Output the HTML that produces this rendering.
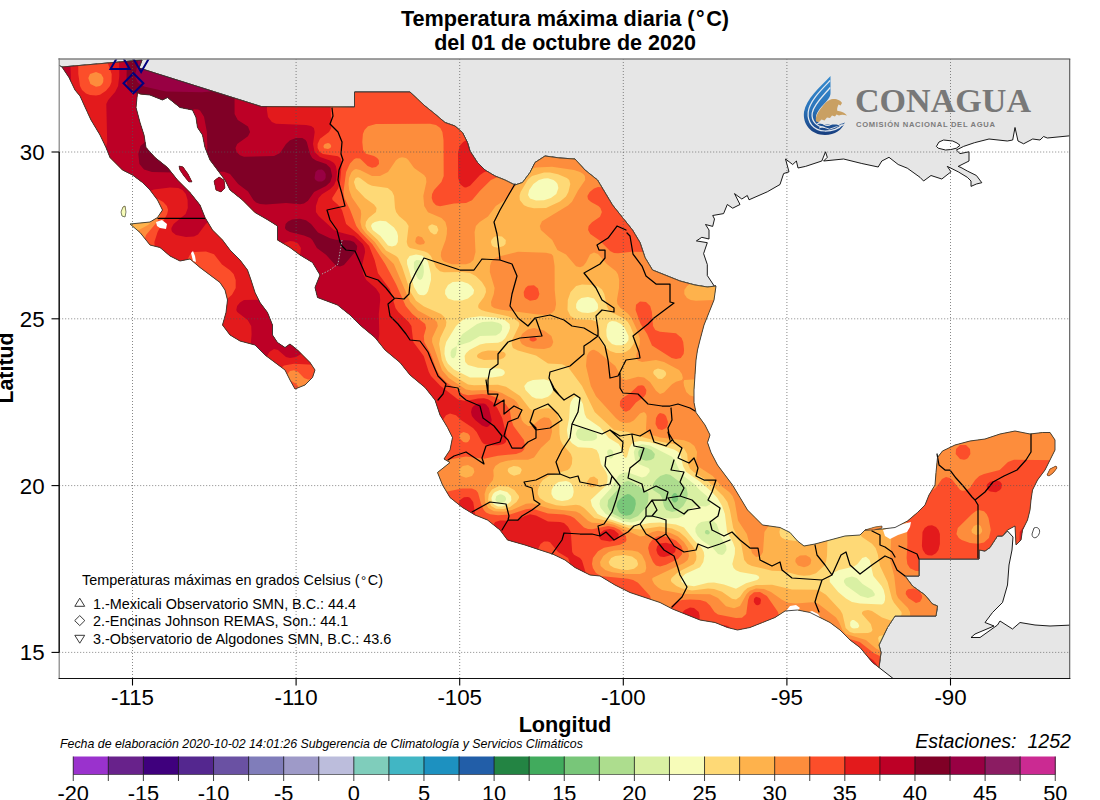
<!DOCTYPE html>
<html><head><meta charset="utf-8"><title>Temperatura máxima diaria</title>
<style>
html,body{margin:0;padding:0;background:#fff;}
body{width:1100px;height:800px;overflow:hidden;font-family:"Liberation Sans",sans-serif;}
svg{display:block;font-family:"Liberation Sans",sans-serif;}
svg text{fill:#000;}
</style></head><body>
<svg width="1100" height="800" viewBox="0 0 1100 800">
<defs>
<clipPath id="mx"><path d="M62,67 142,60 139,68 261.4,106.6 354.5,107 354.5,92 410,92 417.5,99 425,106 435,114 445,122.5 455,126 462.5,132.5 467.5,142.5 470,151 477.5,162.5 485,170 495,176 505,180 515,185 522.5,182.5 530,172.5 535,162.5 545,156 560,158 575,159 585,170 597.5,180 605,192.5 612.5,205 622.5,217.5 632.5,230 640,242.5 645,257.5 652.5,270 665,275 680,281 695,285 707.5,287 716,286 714,300 709,312.5 704,325 700,340 697.5,350 696,360 695,375 694,390 694,402.5 696,412.5 705,425 710,435 707.5,442.5 711,452.5 717.5,465 725,475 732.5,485 740,497.5 747.5,510 755,517.5 762.5,525 780,527.5 790,532.5 797.5,541 804,546 815,544 830,540 845,536 860,535 865,530 882.5,529 895,527.5 907.5,521 917.5,512.5 925,505 929,495 935,485 936,472.5 937.5,457.5 942.5,451 955,445 970,441 985,439 1000,434 1015,431 1030,434 1042.5,432.5 1050,432.5 1055,440 1055,450 1050,460 1045,470 1037.5,480 1032.5,490 1031,500 1030,510 1027.5,520 1022.5,530 1021,540 1016,545 1015,526 1007.5,530 1002.5,536 997.5,536 990,547.5 985,551 979,550 979,559 919,559 919,576 905,576 912.5,586 925,595 932.5,604 937.5,606 936,616 895,616 887.5,627.5 879,645 881,652.5 879,667.5 872.5,662.5 860,647.5 850,640 840,630 830,622.5 820,617.5 810,612.5 797.5,610 785,611 775,617.5 762.5,622.5 750,627.5 737.5,630 727.5,627.5 715,622.5 700,620 685,614 672.5,609 660,602.5 645,597.5 630,592.5 615,585 600,576 590,575 575,567.5 565,560 552.5,554 540,550 525,545 507.5,540 500,530 487.5,520 475,515 462.5,507.5 450,497.5 442.5,485 437.5,472.5 450,462.5 444,459 450,450 452.5,437.5 447.5,427.5 440,415 435,400 425,387.5 410,375 400,362.5 385,350 375,337.5 360,325 350,315 337.5,305 317.5,297.5 315,287.5 320,275 312.5,262.5 300,255 290,247.5 277.5,240 277.5,226 268,220 255,212.5 242.5,200 230,190 225,180 217.5,170 210,160 205,147.5 202.5,135 197.5,127.5 196,117.5 192.5,110 180,107.5 167.5,97.5 162.5,100 150,95 140,94 137.5,92.5 136,107.5 140,122.5 144,135 146,147.5 155,157.5 167.5,167.5 177.5,180 190,192.5 200,205 205,217.5 212.5,230 222.5,240 230,250 240,260 247.5,270 251,280 255,292.5 260,302.5 267.5,312.5 272.5,325 272.5,335 277.5,342.5 285,347.5 290,344 297.5,350 302.5,355 310,362.5 315,370 312.5,377.5 305,385 295,389 290,380 285,370 275,362.5 265,355 255,345 240,341 230,335 222.5,325 226,312.5 227.5,300 225,290 220,282.5 210,275 200,267.5 190,259 180,261 170,256 160,247.5 150,245 140,232.5 130,224 150,222 157.5,217.5 162.5,210 157.5,200 150,190 142.5,182.5 132.5,175 122.5,170 110,157.5 106,147.5 100,135 91,120 87.5,112.5 80,96 75,90 69,77.5Z"/><path d="M179,166 183,167 188,174 192,182 189,182 184,176 180,170Z"/><path d="M214,181 219,177 224,180 225,188 221,192 216,190Z"/><path d="M123,207 125,206 126,212 125,217 122,216 121,212Z"/><path d="M1047,475 1050,469 1056,466 1057,468 1053,473 1049,476Z"/><path d="M865,530 875,527 882,526 882,528 874,530Z"/></clipPath>
<clipPath id="fr"><rect x="59.2" y="59" width="1010.5" height="619.5"/></clipPath>
</defs>
<rect width="1100" height="800" fill="#fff"/>
<g clip-path="url(#fr)">
<path d="M57,57 57,64 62,67 142,60 139,68 261.4,106.6 354.5,107 354.5,92 410,92 417.5,99 425,106 435,114 445,122.5 455,126 462.5,132.5 467.5,142.5 470,151 477.5,162.5 485,170 495,176 505,180 515,185 522.5,182.5 530,172.5 535,162.5 545,156 560,158 575,159 585,170 597.5,180 605,192.5 612.5,205 622.5,217.5 632.5,230 640,242.5 645,257.5 652.5,270 665,275 680,281 695,285 707.5,287 716,286 714.5,286.4 707.3,275.5 707.3,264.5 703.6,253.6 707.3,242.7 696.4,240.9 701.8,237.3 709,239 709,230 705.5,224.5 712.7,226.4 714.5,219 712.7,215.5 723.6,213.6 727.3,204.5 732.7,208.2 740,204.5 734.5,193.6 741.8,199 747.3,195.5 749,199.8 767.3,191.8 780,184.5 783.6,173.6 789,171.8 785.5,159 792.7,164.5 796.4,161 798,168 805.5,166.4 821.8,161 825.5,151.8 827.3,157.3 823.6,161 843.6,159 861.8,163.5 878.2,167 881.8,161 889,157.3 898.2,164.5 907.3,168.2 920,177.3 923.6,181 931,175.5 941.8,179 951,171.8 947.3,166.4 958.2,171.8 967.3,177.3 971,181 971,186.4 976.4,184 981.8,182.7 976.4,175.5 967.3,171 961,167.5 958.2,166.4 969,161 969,151.8 960,153.6 956.4,150 963.6,146.4 974.5,142.7 989,139 1007.3,141 1012.7,140 1015,127.5 1018,141 1023.6,143.8 1032.7,139 1040,140 1043.6,136.5 1047.3,138 1073,135.5 1073,57Z" fill="#e6e6e6" stroke="#000" stroke-width="0.9" stroke-linejoin="round"/>
<path d="M936.4,146.4 939,142 943.6,140 952.7,141 957,143 960,145.3 956.4,148.2 951,149.5 945.5,150 938.2,148.2Z" fill="#fff" stroke="#000" stroke-width="0.9"/>
<path d="M979,559 979,550 985,551 990,547.5 997.5,536 1002.5,536 1007.5,531 1013,537 1012,550 1009,565 1007.5,585 1002.5,602.5 992.5,612.5 985,622.5 994,626 975,634 971,637.5 980,637.5 997.5,625 1000,621 1012.5,629 1020,622.5 1035,625 1050,626 1073,625 1073,681 896,681 892.5,678 879,667.5 881,652.5 879,645 887.5,627.5 895,616 936,616 937.5,606 932.5,604 925,595 912.5,586 905,576 919,576 919,559 979,559Z" fill="#e6e6e6" stroke="#000" stroke-width="0.9" stroke-linejoin="round"/>
<g clip-path="url(#mx)">
<rect x="50" y="50" width="1030" height="640" fill="#78c679"/>
<path fill-rule="evenodd" fill="#addd8e" d="M50.0,52.0 1080.0,52.0 1080.0,690.0 50.0,690.0ZM627.7,494.0 624.0,495.5 618.9,500.0 617.4,502.0 616.5,506.0 619.1,512.0 621.5,514.0 626.0,515.7 630.0,515.1 632.0,513.8 634.4,510.0 635.8,504.0 635.4,500.0 634.0,497.7 630.0,494.4ZM674.0,493.0 671.6,496.0 671.7,500.0 674.0,502.4 676.0,502.2 678.1,500.0 678.2,496.0 676.0,493.3Z"/>
<path fill-rule="evenodd" fill="#d9f0a3" d="M50.0,52.0 1080.0,52.0 1080.0,690.0 50.0,690.0ZM641.8,448.0 639.1,450.0 638.2,452.0 638.6,456.0 640.0,458.1 642.0,459.6 646.0,460.7 651.0,460.0 654.1,458.0 654.9,454.0 651.5,450.0 646.0,447.7ZM660.2,476.0 656.0,479.8 653.1,484.0 652.2,488.0 653.1,490.0 660.0,494.4 662.0,498.0 664.0,506.5 666.2,510.0 672.0,512.0 678.0,510.6 683.2,506.0 686.7,500.0 687.8,494.0 686.4,488.0 682.5,484.0 670.0,474.7 666.0,474.0ZM624.6,482.0 608.2,500.0 607.5,506.0 609.3,510.0 613.4,514.0 622.0,518.2 630.0,519.4 638.0,516.0 645.4,508.0 648.1,502.0 648.5,494.0 647.6,492.0 632.0,482.3 628.0,481.1ZM705.9,530.0 704.8,532.0 705.7,534.0 708.0,534.6 709.3,534.0 709.9,532.0 708.0,529.9Z"/>
<path fill-rule="evenodd" fill="#f7fcb9" d="M50.0,52.0 1080.0,52.0 1080.0,690.0 50.0,690.0ZM416.3,260.0 414.0,262.0 413.8,268.0 416.0,275.2 418.0,278.7 420.0,280.0 422.0,278.7 423.2,276.0 423.9,272.0 423.5,266.0 422.0,262.0 420.0,260.2ZM482.6,322.0 477.1,324.0 462.6,334.0 458.5,340.0 457.4,344.0 458.0,345.8 469.8,342.0 480.0,336.0 496.0,335.4 500.0,333.0 501.9,330.0 502.2,326.0 500.7,324.0 498.0,322.7 492.0,321.6ZM457.0,346.0 452.0,349.0 450.6,352.0 450.7,356.0 452.0,358.1 454.0,358.2 456.0,354.9ZM579.9,428.0 577.2,430.0 575.7,434.0 577.3,438.0 580.0,440.0 584.0,440.9 592.0,440.7 594.8,440.0 597.1,438.0 596.6,434.0 592.0,430.1 584.0,427.8ZM637.3,446.0 635.4,448.0 633.8,452.0 635.0,460.0 638.6,464.0 648.4,468.0 649.7,470.0 649.5,472.0 646.0,476.3 642.0,477.5 628.0,472.4 624.0,472.5 620.0,474.2 618.0,476.2 611.2,488.0 600.2,500.0 599.5,504.0 600.7,508.0 605.8,514.0 624.0,521.6 632.0,522.4 650.0,517.6 670.0,518.6 678.0,518.0 684.0,515.5 694.0,506.6 698.0,506.0 706.0,506.6 710.0,504.6 710.3,500.0 708.0,496.9 700.0,490.3 694.1,484.0 681.1,474.0 674.7,460.0 672.0,456.7 650.0,445.5 642.0,444.3ZM607.9,450.0 607.1,452.0 607.8,456.0 610.0,458.4 612.0,458.3 613.4,456.0 613.3,452.0 612.0,450.0 610.0,449.3ZM496.4,496.0 495.3,500.0 498.0,502.9 502.0,503.1 504.4,502.0 506.0,500.0 506.0,498.0 504.7,496.0 502.0,494.5 500.0,494.3ZM701.3,522.0 698.0,524.0 695.4,528.0 695.5,532.0 697.6,536.0 702.0,540.4 712.0,547.0 718.0,554.0 722.0,554.9 724.0,553.9 726.5,550.0 726.2,546.0 721.5,538.0 716.7,524.0 714.0,521.4 710.0,520.4ZM846.0,578.0 844.1,580.0 843.9,582.0 846.0,585.4 860.6,596.0 868.0,598.0 874.3,596.0 874.9,594.0 872.2,590.0 862.6,584.0 856.8,578.0 852.0,576.5Z"/>
<path fill-rule="evenodd" fill="#fed976" d="M50.0,52.0 1080.0,52.0 1080.0,690.0 50.0,690.0 50.0,218.0 136.0,217.7 144.0,216.2 146.1,214.0 145.6,212.0 140.0,210.7 126.0,211.9 50.0,211.7ZM538.9,180.0 533.4,184.0 529.2,190.0 528.0,195.0 530.0,198.6 536.0,200.6 544.0,200.3 550.9,198.0 556.3,194.0 558.4,188.0 557.5,184.0 556.0,181.9 553.5,180.0 548.0,178.2 544.0,178.4ZM374.8,222.0 372.0,223.8 371.0,226.0 372.7,230.0 380.4,236.0 388.0,245.6 392.0,246.6 396.0,245.2 397.8,242.0 398.0,236.0 397.0,232.0 394.0,227.4 386.0,221.2 380.0,220.8ZM409.6,256.0 407.0,260.0 407.1,264.0 414.0,287.0 418.0,293.7 420.0,295.1 424.0,295.3 426.2,294.0 428.0,291.3 431.0,280.0 430.9,274.0 428.0,262.0 425.6,258.0 422.0,255.5 416.0,254.4ZM452.7,282.0 448.0,284.9 445.2,290.0 445.1,294.0 448.0,298.4 454.0,300.6 462.0,300.6 468.0,298.6 473.3,294.0 474.1,290.0 471.3,286.0 468.0,283.4 462.0,281.4ZM581.4,298.0 578.0,300.6 576.2,304.0 576.1,308.0 578.0,310.7 582.0,312.5 588.0,312.9 594.0,312.0 597.1,310.0 598.1,308.0 597.8,304.0 594.0,298.6 588.0,296.9ZM466.7,318.0 462.0,320.5 456.0,326.1 446.2,342.0 444.7,348.0 444.5,354.0 446.0,360.0 448.0,363.8 454.0,369.4 470.0,377.5 492.0,377.6 502.1,376.0 504.5,374.0 504.8,372.0 503.5,370.0 500.0,368.5 478.0,367.7 468.0,365.1 465.2,362.0 464.6,356.0 466.0,353.2 469.5,350.0 480.0,344.6 486.0,343.2 498.0,342.8 502.0,341.3 505.3,338.0 508.6,332.0 510.0,328.0 509.6,324.0 504.7,320.0 496.0,317.5 480.0,316.3ZM609.2,322.0 607.5,324.0 606.3,330.0 606.6,336.0 608.0,340.0 612.0,343.9 616.0,345.2 622.0,345.2 626.0,343.6 628.5,340.0 628.5,336.0 624.0,326.8 620.9,324.0 616.0,321.6 612.0,321.0ZM533.0,380.0 527.6,382.0 524.2,386.0 525.5,390.0 532.0,396.8 536.0,398.5 542.0,398.7 548.0,396.7 551.2,394.0 553.3,390.0 553.5,386.0 552.0,382.8 550.0,381.0 544.0,379.3ZM573.3,398.0 570.8,402.0 569.9,406.0 569.2,418.0 566.9,430.0 568.1,438.0 572.0,443.2 578.0,447.2 592.0,448.1 596.6,450.0 598.7,454.0 600.9,464.0 606.1,472.0 607.5,476.0 607.4,482.0 605.5,486.0 590.6,500.0 592.0,506.0 597.7,514.0 604.0,517.3 628.0,525.2 636.0,525.4 650.0,522.9 660.0,522.6 676.0,524.4 684.0,527.4 694.0,540.0 701.7,548.0 703.8,552.0 704.3,556.0 703.3,562.0 700.0,567.2 685.2,574.0 681.1,578.0 681.6,582.0 686.0,585.1 694.0,586.3 708.0,582.8 714.0,582.6 724.0,584.5 736.0,588.8 746.0,583.2 757.1,580.0 759.4,578.0 758.5,576.0 756.0,574.7 740.0,571.9 736.0,570.2 733.6,568.0 732.3,564.0 734.8,554.0 735.0,548.0 732.8,542.0 727.1,532.0 724.9,514.0 722.0,505.7 717.4,498.0 711.9,492.0 700.4,482.0 686.0,471.8 683.0,466.0 680.8,456.0 678.3,452.0 674.0,449.4 650.0,442.3 640.0,440.9 634.5,442.0 631.6,444.0 629.4,448.0 627.3,456.0 626.0,457.9 624.0,457.0 621.0,448.0 618.7,444.0 608.8,438.0 600.0,427.2 586.6,418.0 584.7,414.0 582.9,404.0 580.0,398.5 576.0,396.6ZM558.5,482.0 554.0,485.2 551.6,490.0 551.4,494.0 553.5,498.0 556.8,500.0 562.0,501.1 568.0,500.1 571.4,498.0 572.8,496.0 573.7,492.0 573.3,488.0 571.6,484.0 569.3,482.0 566.0,480.9ZM495.0,492.0 493.0,494.0 491.4,498.0 492.1,502.0 494.0,504.4 498.0,506.4 502.0,506.5 506.0,505.2 510.3,502.0 511.4,500.0 511.0,496.0 507.1,492.0 500.0,490.1ZM862.2,558.0 857.5,564.0 854.0,566.6 839.1,570.0 834.0,572.6 829.7,578.0 829.8,582.0 838.2,592.0 846.0,598.4 852.0,601.9 860.0,603.4 882.0,604.6 884.0,603.1 885.0,600.0 885.1,596.0 883.7,590.0 881.6,586.0 873.3,576.0 869.7,560.0 866.0,556.7ZM852.0,620.0 850.2,622.0 850.2,626.0 851.9,628.0 854.0,628.6 858.0,628.0 859.3,626.0 858.0,623.0 854.0,620.0Z"/>
<path fill-rule="evenodd" fill="#feb24c" d="M50.0,52.0 1080.0,52.0 1080.0,690.0 50.0,690.0 50.0,225.0 130.0,224.8 146.0,221.0 149.8,218.0 151.8,214.0 151.8,212.0 150.0,209.1 144.0,206.8 126.0,207.9 50.0,207.8ZM544.0,172.6 532.0,176.0 528.0,179.4 520.6,192.0 519.5,196.0 519.8,200.0 524.0,205.3 528.0,207.1 534.0,208.3 546.0,207.9 560.0,201.6 566.0,196.6 568.4,192.0 570.3,184.0 569.2,180.0 566.9,178.0 558.0,174.3 550.0,172.6ZM355.6,178.0 353.9,182.0 356.0,188.6 365.0,198.0 374.0,204.5 376.6,208.0 376.0,212.0 368.6,218.0 366.0,221.8 365.4,226.0 367.1,230.0 377.7,240.0 386.0,250.5 396.0,256.0 398.1,258.0 402.0,266.5 410.5,292.0 416.0,300.8 424.0,306.5 441.0,314.0 445.2,318.0 446.4,322.0 445.9,326.0 440.2,338.0 439.1,344.0 441.8,360.0 444.4,366.0 448.0,371.2 454.0,376.1 468.0,384.5 474.0,385.3 498.0,384.8 506.0,386.7 520.0,396.0 530.0,409.1 532.0,410.3 548.0,408.2 554.0,409.6 556.6,412.0 559.3,420.0 559.5,434.0 560.4,440.0 562.4,444.0 570.9,454.0 572.3,458.0 571.9,464.0 570.0,468.0 567.8,470.0 550.0,475.2 542.8,480.0 540.0,484.0 537.9,490.0 537.7,494.0 539.7,498.0 545.7,502.0 556.0,505.2 564.0,505.9 576.0,504.8 580.0,505.4 584.0,508.0 594.4,518.0 612.0,522.0 630.0,528.5 640.0,529.4 660.0,526.6 672.0,528.6 679.5,532.0 686.0,537.8 692.6,546.0 695.1,550.0 696.5,556.0 696.1,560.0 693.8,564.0 678.2,572.0 671.6,578.0 670.8,580.0 671.5,582.0 676.5,586.0 682.0,588.6 692.0,590.4 708.0,588.4 714.0,588.9 722.0,591.7 732.0,598.8 736.0,599.5 740.0,596.7 744.0,591.1 747.5,588.0 756.0,585.0 772.0,584.8 792.0,589.5 818.0,589.7 826.0,594.7 840.2,610.0 842.5,614.0 845.7,628.0 849.9,632.0 854.0,633.2 868.0,633.0 871.1,632.0 872.5,630.0 870.8,624.0 862.0,614.0 862.1,612.0 864.0,610.7 868.0,610.1 872.0,611.1 882.0,617.6 890.0,620.3 896.0,620.3 900.0,617.7 901.7,614.0 901.5,612.0 894.0,602.7 892.0,598.9 887.6,582.0 880.0,566.0 877.7,554.0 875.6,548.0 872.0,543.7 862.0,536.9 856.0,528.5 848.0,521.4 840.0,511.2 828.0,505.9 826.5,490.0 828.4,472.0 827.3,468.0 825.6,466.0 822.0,464.7 817.4,466.0 810.0,475.3 801.3,482.0 794.0,491.9 786.0,497.3 784.0,499.7 782.7,504.0 782.8,518.0 779.4,532.0 780.3,536.0 782.2,538.0 786.0,539.8 798.0,541.2 804.0,540.1 807.0,538.0 809.4,534.0 810.0,518.0 812.0,512.3 814.0,510.4 818.0,508.8 824.0,508.6 826.0,510.0 827.7,530.0 827.0,556.0 826.0,562.0 823.9,566.0 816.0,573.2 810.0,575.2 804.0,575.7 798.0,575.1 784.0,571.3 772.0,570.7 752.0,566.0 747.6,564.0 744.2,560.0 741.2,544.0 733.2,528.0 729.9,510.0 727.4,502.0 723.1,496.0 708.0,481.3 693.6,472.0 690.0,468.8 688.0,464.0 687.2,454.0 684.0,448.6 676.0,444.6 658.0,441.3 638.5,436.0 628.0,432.0 614.0,430.0 594.7,412.0 582.0,385.9 568.0,366.9 562.0,364.3 548.0,363.6 536.0,355.5 518.0,350.5 512.9,348.0 511.6,344.0 512.1,340.0 518.9,326.0 519.4,324.0 518.6,322.0 514.0,318.7 508.0,316.2 486.0,311.5 481.3,310.0 478.5,308.0 478.1,306.0 478.8,304.0 484.0,296.9 486.0,292.0 485.6,288.0 481.9,282.0 475.7,276.0 470.0,273.1 462.0,272.1 444.0,272.3 440.0,271.3 436.0,267.5 430.9,256.0 428.0,252.9 424.0,251.2 409.9,248.0 407.8,246.0 406.7,242.0 408.6,226.0 406.1,222.0 399.0,216.0 396.1,212.0 395.0,208.0 394.1,196.0 392.0,191.5 387.7,188.0 372.0,185.7 368.0,183.9 360.0,177.9 358.0,177.3ZM428.6,226.0 428.2,228.0 430.3,232.0 434.0,234.6 436.4,234.0 438.4,230.0 436.9,226.0 432.0,224.2ZM496.7,236.0 494.0,237.0 491.4,240.0 490.9,242.0 492.0,245.5 494.0,247.0 498.0,247.7 503.5,246.0 505.5,244.0 505.8,240.0 502.0,236.6ZM576.1,286.0 570.6,292.0 567.8,300.0 567.5,310.0 570.5,316.0 576.0,319.3 592.0,320.0 597.1,322.0 598.9,326.0 599.8,340.0 603.7,346.0 610.0,351.0 616.0,352.9 622.0,352.9 626.0,351.8 630.0,349.1 633.5,344.0 634.5,340.0 633.5,334.0 630.2,326.0 627.8,322.0 624.0,318.4 610.8,312.0 608.6,310.0 606.8,306.0 604.3,294.0 602.0,289.5 598.0,286.5 592.0,285.0 582.0,284.5ZM654.3,370.0 653.2,372.0 653.6,374.0 658.0,378.8 662.0,379.0 665.4,376.0 666.2,374.0 665.7,372.0 663.6,370.0 658.0,368.5ZM513.6,466.0 508.6,468.0 507.6,470.0 508.2,472.0 510.1,474.0 514.0,475.7 520.0,474.0 521.8,470.0 520.7,468.0 518.0,466.5ZM498.9,486.0 492.0,489.4 488.8,494.0 488.1,500.0 491.2,506.0 496.0,508.7 504.0,509.0 510.0,506.9 516.5,502.0 519.0,498.0 518.9,496.0 514.3,490.0 508.0,486.5ZM615.2,556.0 611.2,558.0 608.6,562.0 610.0,565.2 614.0,567.7 622.0,569.8 628.0,570.1 634.0,568.7 637.4,566.0 638.1,564.0 636.8,560.0 632.0,556.5 624.0,555.0ZM879.4,636.0 878.1,638.0 878.9,642.0 880.3,644.0 884.0,646.2 910.0,647.1 914.7,646.0 916.6,644.0 916.7,642.0 914.0,639.4 900.0,635.7 886.0,634.8ZM482.0,351.7 488.0,350.4 498.0,350.7 504.0,351.9 505.7,354.0 505.4,356.0 503.6,358.0 500.0,359.5 484.0,360.0 478.0,358.1 476.8,356.0 478.0,354.0ZM590.0,477.6 594.0,476.6 598.0,479.6 598.1,484.0 596.0,486.3 592.0,487.6 587.8,486.0 586.8,482.0Z"/>
<path fill-rule="evenodd" fill="#fd8d3c" d="M50.0,52.0 879.0,52.0 878.8,66.0 876.0,72.5 866.0,80.6 858.0,91.5 849.1,98.0 842.0,107.7 833.3,114.0 826.0,123.6 817.3,130.0 810.0,139.6 801.3,146.0 794.0,155.6 785.3,162.0 778.0,171.6 769.3,178.0 762.0,187.6 753.3,194.0 746.0,204.0 731.4,212.0 716.6,226.0 714.3,232.0 714.9,242.0 713.9,246.0 710.5,250.0 701.3,256.0 699.5,260.0 699.3,272.0 698.0,276.9 695.7,280.0 687.1,286.0 684.3,290.0 684.3,294.0 687.0,298.0 690.7,300.0 696.0,300.8 714.0,299.9 860.0,300.4 866.0,299.8 870.0,298.0 878.0,287.9 886.1,282.0 889.7,278.0 890.9,274.0 891.1,262.0 892.0,258.7 894.0,255.6 902.1,250.0 905.7,246.0 906.9,242.0 907.1,230.0 908.3,226.0 911.9,222.0 920.0,216.4 921.7,214.0 922.9,210.0 923.1,198.0 924.3,194.0 927.9,190.0 936.0,184.0 942.0,176.0 950.1,170.0 953.7,166.0 954.9,162.0 955.1,150.0 956.3,146.0 958.0,143.6 966.1,138.0 969.7,134.0 970.9,130.0 971.1,118.0 972.3,114.0 975.8,110.0 984.0,104.3 986.5,100.0 987.4,84.0 988.7,80.0 992.0,76.4 998.9,72.0 1002.1,68.0 1003.0,52.0 1080.0,52.0 1080.0,690.0 50.0,690.0 50.0,312.0 62.0,311.9 66.0,310.9 74.0,301.8 84.0,294.6 90.2,286.0 100.7,278.0 108.0,268.2 116.0,262.6 124.0,252.6 133.1,246.0 135.1,242.0 137.0,232.0 138.8,230.0 148.0,224.9 152.0,221.6 155.5,216.0 156.1,212.0 154.3,208.0 152.1,206.0 146.0,203.9 126.0,205.2 50.0,205.1ZM399.1,158.0 396.0,160.3 388.0,171.9 380.0,176.0 372.0,176.1 360.0,169.9 356.0,169.1 354.0,169.7 351.6,172.0 349.0,178.0 348.5,184.0 349.2,190.0 352.0,197.4 360.7,210.0 361.2,214.0 360.4,222.0 361.8,228.0 366.0,233.6 374.8,242.0 382.0,252.4 393.8,264.0 410.2,302.0 418.0,310.6 434.0,319.2 437.0,322.0 437.8,326.0 432.2,338.0 432.1,342.0 441.9,370.0 448.8,378.0 466.0,389.6 472.0,390.4 488.0,389.9 496.0,390.9 502.0,393.1 514.0,399.6 516.7,402.0 519.1,406.0 521.7,420.0 524.0,423.1 528.0,425.9 532.1,426.0 540.0,419.3 544.0,417.2 549.0,418.0 551.7,422.0 552.0,432.0 550.0,439.4 540.9,448.0 534.0,457.6 528.0,459.8 514.0,459.8 506.0,460.9 500.0,462.8 495.3,466.0 493.3,470.0 493.7,476.0 492.9,480.0 486.4,488.0 484.6,494.0 485.0,502.0 488.3,508.0 494.0,511.2 504.0,511.8 512.0,510.0 526.0,503.7 532.0,503.2 550.0,508.8 576.0,511.4 580.0,513.4 588.0,520.7 592.0,522.8 608.0,523.6 614.0,524.8 640.0,536.6 644.0,536.0 652.3,532.0 658.0,530.8 670.0,532.7 678.0,536.5 683.9,542.0 687.8,548.0 689.0,556.0 687.6,560.0 684.0,563.0 652.4,578.0 652.2,580.0 654.3,584.0 658.0,587.6 662.0,589.9 684.0,593.9 710.0,594.3 718.0,598.0 726.0,606.2 734.0,608.2 740.0,606.0 746.6,594.0 750.0,590.7 756.0,588.4 764.0,589.0 771.0,592.0 782.0,599.7 788.0,602.8 796.0,603.6 812.0,602.3 818.0,603.4 836.0,617.5 839.0,622.0 842.4,630.0 846.0,633.9 865.9,640.0 876.0,648.4 882.0,651.6 888.0,652.5 912.0,652.5 918.0,651.3 923.3,648.0 925.9,644.0 925.3,638.0 921.3,634.0 911.7,630.0 909.1,628.0 908.1,624.0 910.2,616.0 910.0,612.0 907.9,608.0 898.1,598.0 896.3,594.0 894.2,576.0 890.0,560.0 891.9,526.0 891.5,518.0 886.4,500.0 884.0,497.3 874.8,492.0 872.1,488.0 871.2,482.0 873.8,470.0 873.7,466.0 870.4,462.0 862.0,456.2 855.7,448.0 846.6,440.0 840.0,431.3 838.0,429.9 834.0,429.0 828.7,432.0 826.9,436.0 827.3,448.0 826.1,452.0 823.9,454.0 812.0,459.6 804.6,470.0 796.0,476.5 788.8,486.0 777.7,494.0 775.3,500.0 775.2,512.0 774.1,518.0 764.4,532.0 763.0,552.0 760.5,556.0 756.0,556.9 752.0,553.0 746.8,534.0 738.0,520.6 734.8,502.0 732.6,496.0 729.2,492.0 721.3,486.0 712.8,476.0 697.4,466.0 696.1,462.0 697.1,452.0 694.4,446.0 690.0,442.6 684.0,440.2 660.0,437.6 649.3,434.0 645.9,430.0 646.7,416.0 646.0,413.8 644.0,412.1 640.0,413.5 634.0,420.2 630.0,422.6 626.0,423.1 620.0,421.4 615.8,418.0 596.0,396.2 590.8,386.0 586.0,366.1 586.8,356.0 589.0,352.0 592.0,349.9 594.0,349.8 598.0,351.7 615.3,366.0 622.0,378.6 626.0,380.1 638.0,376.7 644.0,377.4 650.0,382.0 656.0,390.8 660.0,394.0 664.0,392.6 672.0,384.3 676.0,381.8 681.9,380.0 682.9,378.0 681.9,374.0 679.1,370.0 664.0,361.9 656.0,359.9 642.0,362.1 638.0,360.5 636.1,358.0 636.5,354.0 639.8,344.0 639.7,338.0 637.0,330.0 631.4,318.0 628.0,313.7 620.5,308.0 617.4,304.0 616.9,300.0 619.0,288.0 619.2,280.0 618.0,274.4 616.0,271.3 606.8,264.0 598.0,254.1 594.0,252.4 590.0,254.4 586.0,262.6 583.2,266.0 580.0,267.3 576.0,266.2 566.0,254.4 557.4,250.0 552.2,240.0 540.9,230.0 539.8,226.0 542.0,221.2 568.0,205.4 572.0,201.8 578.0,190.6 585.2,180.0 584.9,176.0 583.3,174.0 580.0,171.9 574.0,170.0 552.0,166.8 536.0,167.6 526.0,170.3 522.2,174.0 516.0,185.1 506.0,199.3 495.8,206.0 488.0,216.5 479.7,222.0 475.9,226.0 474.6,232.0 475.5,252.0 473.5,260.0 470.0,263.0 466.0,264.2 452.0,264.2 444.0,261.6 442.0,259.5 440.8,256.0 441.1,252.0 445.6,240.0 446.8,234.0 447.0,228.0 445.4,222.0 441.5,218.0 428.0,212.2 424.2,206.0 423.3,196.0 426.4,182.0 426.0,177.7 424.0,175.1 414.1,168.0 408.3,160.0 406.0,158.1 402.0,157.2ZM684.2,380.0 683.5,382.0 684.1,386.0 686.3,392.0 690.0,395.5 696.0,397.0 768.0,396.7 775.1,394.0 776.8,392.0 778.0,388.0 776.8,384.0 775.1,382.0 768.0,379.3 696.0,379.3ZM462.7,466.0 459.0,470.0 459.4,474.0 461.1,476.0 466.0,477.7 472.0,475.9 474.4,472.0 473.4,468.0 468.0,465.1ZM973.9,526.0 971.4,530.0 972.0,532.7 976.0,535.0 980.0,534.3 981.9,532.0 982.2,530.0 980.7,526.0 978.0,524.3ZM608.7,552.0 603.3,556.0 600.0,562.0 600.7,566.0 605.2,570.0 612.0,572.3 626.0,574.1 640.0,573.9 645.1,572.0 646.3,568.0 645.4,562.0 642.0,555.0 638.0,551.8 632.0,550.4 622.0,550.1 614.0,550.5ZM416.0,237.7 418.0,236.1 422.0,237.2 425.0,242.0 424.0,244.0 420.0,244.8 417.0,244.0 415.2,242.0ZM518.0,251.8 546.0,252.7 551.4,254.0 553.1,256.0 554.6,266.0 554.7,290.0 556.1,304.0 554.9,310.0 552.0,313.1 546.0,314.9 536.0,314.2 500.0,309.6 494.1,308.0 491.4,306.0 491.0,302.0 493.8,294.0 494.6,288.0 489.8,272.0 490.0,266.0 491.2,262.0 494.0,258.7 498.0,256.7ZM534.0,327.9 544.0,330.4 551.4,336.0 553.3,342.0 552.0,345.5 550.0,347.5 544.0,349.1 534.0,348.6 526.0,346.6 521.8,344.0 519.7,340.0 522.0,334.0 528.0,329.3ZM800.0,555.4 806.0,555.2 810.0,557.5 811.3,560.0 810.5,564.0 808.0,566.1 804.0,567.2 798.0,565.4 795.4,562.0 795.4,560.0 796.2,558.0Z"/>
<path fill-rule="evenodd" fill="#fc4e2a" d="M50.0,52.0 523.0,52.0 523.9,76.0 523.2,82.0 520.0,88.0 509.2,96.0 507.9,100.0 511.3,120.0 511.1,160.0 509.8,168.0 506.0,173.2 490.9,180.0 480.0,190.7 472.0,200.2 466.0,203.1 454.0,203.6 440.0,206.3 436.0,205.3 433.0,202.0 431.7,198.0 432.1,194.0 434.1,190.0 441.4,182.0 443.7,176.0 443.5,140.0 442.4,132.0 440.3,128.0 436.0,124.9 430.0,123.7 376.0,123.9 368.0,126.2 364.5,130.0 362.9,134.0 362.3,142.0 363.1,150.0 366.0,153.8 374.0,156.1 377.2,158.0 378.8,160.0 379.0,164.0 376.0,166.9 372.0,167.7 367.7,166.0 360.0,158.4 356.0,158.3 354.0,159.3 350.0,163.5 346.1,172.0 343.4,192.0 344.4,198.0 350.2,210.0 356.3,226.0 360.5,232.0 372.2,244.0 385.2,264.0 396.0,284.1 405.7,306.0 412.4,314.0 425.2,324.0 426.1,328.0 423.8,336.0 424.3,342.0 430.7,354.0 436.6,370.0 440.0,375.8 446.0,381.9 462.8,394.0 468.0,395.2 482.0,393.9 488.0,394.5 496.0,397.4 505.6,404.0 509.8,410.0 511.4,420.0 513.5,426.0 524.0,440.0 525.1,446.0 524.0,449.7 521.7,452.0 516.1,454.0 498.0,455.7 484.0,458.7 466.0,456.6 444.0,460.6 414.0,460.2 394.0,458.8 390.0,459.2 376.0,463.4 368.0,463.2 362.0,459.5 359.0,452.0 359.5,394.0 359.0,390.0 356.8,386.0 352.0,383.1 336.0,379.4 308.0,379.5 304.0,378.1 298.0,371.8 294.0,370.3 290.0,370.9 287.5,374.0 288.2,378.0 290.0,380.2 296.0,383.7 298.0,385.9 299.4,392.0 299.4,510.0 298.3,528.0 300.0,534.8 304.0,538.4 308.0,538.9 310.0,538.2 312.8,536.0 320.0,526.5 328.0,520.0 330.8,514.0 331.0,502.0 332.0,498.0 335.5,494.0 340.0,492.2 444.0,492.2 462.0,488.4 472.0,488.4 476.0,490.2 478.0,492.7 481.1,504.0 483.8,510.0 486.0,512.4 490.0,514.2 498.0,515.2 510.0,514.6 526.0,509.3 532.0,508.6 548.0,513.5 564.0,514.5 570.4,516.0 574.2,518.0 584.0,527.4 588.0,529.1 592.0,529.3 608.0,526.1 614.0,527.2 620.0,530.0 625.9,536.0 626.5,540.0 625.6,542.0 620.0,544.7 604.0,547.8 598.0,551.3 592.9,558.0 592.0,564.0 592.9,568.0 596.0,573.1 600.7,576.0 628.0,578.8 633.1,580.0 638.0,582.8 650.1,596.0 651.2,600.0 651.1,612.0 653.0,616.0 656.0,618.5 660.0,619.4 664.2,618.0 667.4,614.0 671.3,606.0 675.9,602.0 682.0,600.1 690.0,599.4 700.0,600.0 706.0,601.8 710.0,605.4 714.5,612.0 718.0,614.5 736.0,617.9 742.0,617.7 746.2,614.0 748.1,600.0 749.6,596.0 754.0,592.3 760.0,592.0 766.9,596.0 778.0,612.0 779.4,618.0 778.6,634.0 779.1,642.0 781.7,648.0 786.0,651.2 790.0,652.3 798.0,652.4 805.9,650.0 813.7,640.0 822.0,632.9 826.5,626.0 829.9,624.0 832.0,624.1 834.7,626.0 839.0,634.0 842.0,636.8 859.7,642.0 874.0,653.2 882.0,657.0 888.0,657.9 914.0,657.7 920.0,656.8 930.0,653.6 934.0,653.7 936.7,656.0 942.0,664.4 952.0,672.2 959.2,682.0 967.2,690.0 50.0,690.0 50.0,319.9 64.0,319.8 70.2,318.0 80.0,306.6 90.0,299.6 97.2,290.0 106.0,283.7 113.2,274.0 122.0,267.4 129.4,258.0 139.1,252.0 141.9,248.0 146.0,234.9 157.0,222.0 159.9,216.0 160.5,212.0 159.4,208.0 156.0,204.0 148.0,201.0 126.0,202.6 50.0,202.5ZM90.0,74.0 88.3,78.0 90.4,84.0 96.0,86.8 100.0,86.1 102.0,84.3 103.2,82.0 103.4,78.0 101.1,74.0 96.0,72.0ZM324.7,144.0 323.4,146.0 324.0,148.2 328.0,149.0 330.4,148.0 331.3,146.0 330.0,143.7 328.0,143.1ZM463.5,432.0 459.7,434.0 459.4,438.0 463.3,442.0 466.0,442.5 468.0,441.9 470.0,439.0 469.9,436.0 468.0,433.4ZM763.0,52.0 870.9,52.0 870.8,64.0 869.4,68.0 861.9,74.0 854.0,84.6 844.0,92.1 836.7,102.0 828.0,108.3 820.7,118.0 812.0,124.4 804.7,134.0 796.0,140.4 788.0,150.7 780.0,156.4 772.7,166.0 764.0,172.4 756.7,182.0 748.0,188.3 740.7,198.0 736.0,200.7 724.4,204.0 720.0,206.8 704.0,222.1 696.0,232.9 686.0,239.7 678.0,250.0 674.0,251.8 670.0,252.3 632.0,251.7 618.0,253.3 614.0,252.9 610.0,250.9 600.0,240.8 590.3,234.0 588.1,230.0 588.6,226.0 592.0,222.3 600.0,216.7 601.9,212.0 600.4,208.0 598.4,206.0 591.1,202.0 588.0,199.2 587.4,196.0 589.7,192.0 594.0,188.6 598.0,187.1 618.0,188.5 626.0,187.8 632.0,184.2 637.7,176.0 642.0,172.9 658.0,171.7 662.0,170.0 670.0,160.0 680.0,152.0 686.0,144.0 696.0,136.0 702.0,128.0 712.0,120.0 718.0,112.0 728.0,104.0 734.0,95.8 743.8,88.0 752.0,77.2 760.7,70.0 762.6,66.0ZM528.0,285.8 534.0,285.2 538.0,288.4 539.4,294.0 538.0,297.9 536.0,299.8 530.0,300.8 525.1,298.0 524.0,296.0 523.7,292.0 525.5,288.0ZM640.0,301.5 646.0,302.0 650.2,306.0 651.9,312.0 653.0,326.0 655.3,330.0 660.0,331.8 676.0,333.2 681.6,338.0 683.2,342.0 684.1,350.0 683.6,354.0 680.8,358.0 676.0,359.1 671.7,358.0 652.0,345.5 647.1,334.0 640.6,324.0 635.6,310.0 636.0,304.7ZM530.0,337.5 534.0,336.8 536.4,338.0 536.8,340.0 534.0,341.6 532.0,341.6 529.4,340.0ZM638.0,385.8 642.0,385.3 644.0,386.1 646.4,390.0 645.9,394.0 644.0,396.7 636.0,402.5 629.8,410.0 626.0,411.8 624.0,411.1 619.9,406.0 620.0,401.2 622.6,398.0 630.0,393.2ZM660.0,413.1 664.0,413.9 666.0,416.0 668.0,422.0 667.4,426.0 666.2,428.0 662.0,429.9 658.0,428.9 655.5,424.0 656.0,417.9 658.0,414.4ZM960.0,445.0 966.0,445.0 970.0,449.0 970.4,454.0 968.0,457.9 966.0,459.2 964.0,459.7 960.0,459.0 955.7,454.0 956.0,448.9ZM1014.0,459.8 1058.0,460.2 1064.0,463.7 1072.0,473.9 1080.0,478.4 1080.0,690.0 1078.7,690.0 1074.9,684.0 1069.3,678.0 1055.8,666.0 1048.9,656.0 1038.0,648.3 1031.9,640.0 1022.0,632.1 1015.8,624.0 1006.0,615.9 1000.0,608.0 990.0,600.0 982.0,590.0 978.0,588.4 962.0,587.2 958.0,584.4 952.3,576.0 948.0,572.9 940.0,571.4 916.0,571.0 910.0,568.2 907.3,564.0 906.6,558.0 907.4,544.0 907.0,520.0 904.7,514.0 896.8,504.0 895.3,498.0 896.0,493.4 898.0,492.0 902.0,491.5 922.0,492.5 930.0,491.7 935.6,488.0 942.0,479.0 946.0,477.1 949.8,478.0 952.0,479.6 960.0,489.8 962.0,490.7 966.0,490.5 970.0,487.7 975.1,480.0 979.3,476.0 984.0,473.9 999.7,470.0 1008.0,462.1ZM978.8,510.0 976.0,510.9 972.0,513.9 957.8,528.0 956.4,534.0 958.8,538.0 961.7,540.0 970.0,542.9 978.0,543.8 984.0,542.4 988.9,538.0 990.8,530.0 988.5,518.0 986.6,514.0 984.0,511.2ZM882.0,477.5 886.0,476.2 889.0,478.0 891.3,484.0 890.0,487.4 886.0,488.1 881.4,486.0 879.8,482.0ZM660.0,535.8 668.0,537.0 676.0,540.4 681.3,546.0 682.7,550.0 682.0,554.2 678.0,558.9 666.0,564.8 660.0,566.5 656.0,565.5 653.0,562.0 649.5,554.0 648.1,548.0 649.2,544.0 652.1,540.0 656.0,537.0ZM908.0,589.2 914.0,588.4 920.0,591.6 922.2,596.0 922.0,598.3 920.0,601.7 916.0,602.9 908.3,598.0 905.7,594.0 906.0,591.3Z"/>
<path fill-rule="evenodd" fill="#e31a1c" d="M50.0,52.0 78.1,52.0 78.3,74.0 80.0,86.1 82.0,90.0 86.0,93.4 90.0,95.0 96.0,95.6 100.0,94.7 106.0,90.7 109.9,86.0 111.5,82.0 111.7,74.0 108.1,64.0 108.0,52.0 315.2,52.0 316.0,68.0 319.0,72.0 326.0,76.8 328.9,80.0 330.6,84.0 331.2,90.0 330.7,110.0 331.3,128.0 329.0,132.0 320.0,138.7 317.6,144.0 317.6,148.0 319.8,152.0 323.0,154.0 338.0,156.3 340.3,158.0 341.9,162.0 340.0,182.9 338.0,188.7 332.2,198.0 332.5,200.0 338.0,204.7 342.0,210.0 346.1,224.0 358.0,234.1 369.1,246.0 374.6,260.0 378.0,273.2 390.0,289.4 395.5,308.0 398.3,312.0 408.7,322.0 411.4,326.0 413.3,342.0 423.7,356.0 428.8,372.0 431.0,376.0 440.0,385.6 458.0,399.5 466.0,400.9 478.0,398.4 484.0,398.2 488.0,399.2 492.5,402.0 497.3,408.0 502.2,418.0 506.6,436.0 506.0,442.0 503.5,444.0 498.0,445.3 490.0,445.3 484.0,443.9 481.9,442.0 476.6,432.0 473.0,428.0 461.0,420.0 456.0,415.3 450.0,413.4 446.0,415.3 440.0,424.2 436.0,427.1 420.7,428.0 416.0,429.8 413.7,432.0 409.0,440.0 406.0,442.9 402.0,444.2 388.0,444.8 376.5,454.0 374.0,454.9 370.0,454.4 367.6,452.0 366.3,446.0 367.2,430.0 367.0,390.0 365.6,384.0 362.9,380.0 348.0,372.4 340.0,365.7 336.0,363.8 318.0,365.0 294.0,363.8 284.0,365.5 280.9,368.0 277.3,376.0 274.0,379.6 270.0,380.3 260.0,379.8 255.1,382.0 248.0,392.2 238.0,400.0 232.0,408.0 222.0,416.0 214.0,425.8 206.0,432.0 200.0,440.0 189.7,448.0 187.5,452.0 186.9,466.0 184.3,472.0 174.0,480.0 168.0,488.0 158.0,496.0 152.0,504.0 143.9,510.0 140.3,514.0 139.1,518.0 138.9,530.0 136.3,536.0 126.0,544.0 120.0,552.0 110.0,560.0 104.0,568.0 94.0,575.5 92.0,578.0 90.7,582.0 90.5,594.0 88.0,600.1 77.0,608.0 68.0,618.4 64.0,619.8 50.0,620.0 50.0,396.0 64.0,395.7 68.5,394.0 77.3,384.0 87.7,376.0 94.0,367.8 104.0,360.0 110.0,351.9 118.1,346.0 121.7,342.0 122.9,338.0 123.1,326.0 124.2,322.0 126.0,319.5 134.4,314.0 138.0,310.0 139.0,306.0 139.0,294.0 140.3,290.0 144.0,286.0 152.0,280.4 154.7,276.0 155.7,266.0 154.4,242.0 157.6,232.0 167.2,214.0 168.1,210.0 166.9,206.0 163.2,202.0 158.0,199.1 150.0,197.4 126.0,200.0 50.0,199.9ZM194.1,252.0 190.0,254.6 187.3,260.0 186.3,296.0 184.0,298.4 174.4,302.0 171.5,306.0 172.0,311.4 176.0,315.1 180.0,315.5 184.0,313.5 186.4,310.0 190.0,301.3 200.0,299.8 224.0,300.2 228.0,298.3 232.0,294.7 235.7,288.0 235.7,280.0 233.6,274.0 230.0,270.2 222.0,264.4 214.0,254.2 206.0,251.4ZM496.0,109.5 500.0,110.8 502.2,114.0 503.2,118.0 502.7,140.0 503.5,158.0 502.3,164.0 498.0,167.8 484.0,172.2 480.0,175.1 470.0,185.7 466.0,187.5 464.0,187.3 460.0,184.1 458.2,178.0 458.0,153.2 459.5,146.0 463.2,142.0 472.0,136.6 478.5,128.0 486.9,120.0 492.4,112.0ZM990.0,481.8 996.0,480.4 1000.0,481.6 1001.9,484.0 1001.5,488.0 1000.0,490.0 996.0,492.2 990.0,491.4 988.0,490.0 986.6,486.0 987.4,484.0ZM464.0,497.2 468.0,496.9 470.0,497.7 473.2,502.0 475.2,514.0 474.2,526.0 474.7,532.0 478.0,537.3 482.0,539.1 486.0,538.7 489.5,536.0 492.5,526.0 495.2,522.0 500.0,520.6 516.0,521.0 524.6,516.0 530.0,514.3 536.0,515.4 548.0,521.5 560.0,521.9 564.0,523.1 568.0,526.7 570.8,532.0 572.2,552.0 574.0,554.7 580.0,558.0 582.0,560.4 586.1,574.0 586.8,580.0 584.0,585.1 580.0,586.8 574.0,585.0 571.5,582.0 570.2,578.0 569.6,562.0 568.1,558.0 558.0,552.0 550.0,542.3 548.0,541.4 544.0,541.5 540.5,544.0 538.6,548.0 538.2,552.0 539.7,570.0 539.3,578.0 536.4,584.0 526.0,591.8 523.5,596.0 522.6,602.0 523.0,626.0 520.2,632.0 510.0,639.8 507.5,644.0 506.6,650.0 507.0,674.0 505.9,678.0 503.4,682.0 496.0,687.9 494.6,690.0 286.8,690.0 294.7,682.0 302.0,672.2 312.0,664.2 318.0,656.0 328.0,648.0 334.0,640.0 344.0,632.0 350.0,624.0 360.0,616.0 366.0,608.0 376.0,600.0 382.0,592.0 392.0,584.0 398.0,576.0 408.0,568.0 414.1,560.0 424.0,552.0 430.0,544.0 440.0,536.1 446.4,528.0 455.7,520.0 458.2,514.0 458.9,502.0 460.1,500.0ZM1030.0,523.8 1080.0,524.0 1080.0,671.1 1072.0,665.7 1067.3,660.0 1066.5,656.0 1067.0,646.0 1066.0,642.0 1064.0,639.2 1055.7,634.0 1052.3,630.0 1051.3,626.0 1050.9,614.0 1049.6,610.0 1036.3,598.0 1035.1,594.0 1034.9,582.0 1033.7,578.0 1030.1,574.0 1022.0,568.3 1019.5,564.0 1018.7,556.0 1019.8,532.0 1024.0,526.0ZM928.0,525.7 932.0,525.3 936.0,527.1 938.5,530.0 939.9,534.0 939.9,544.0 938.4,550.0 936.0,553.3 932.0,555.4 928.0,555.3 925.5,554.0 922.8,550.0 921.9,546.0 922.5,532.0 924.7,528.0ZM604.0,529.9 610.0,529.0 614.1,530.0 618.7,534.0 618.4,538.0 616.0,540.0 610.0,541.5 601.2,540.0 599.3,538.0 599.2,534.0ZM660.0,543.4 666.0,542.7 672.0,544.2 675.9,548.0 675.1,552.0 672.0,554.5 668.0,556.1 664.0,557.1 660.0,556.6 657.6,554.0 656.3,550.0 657.2,546.0ZM756.0,596.8 760.0,597.9 761.0,600.0 760.3,604.0 758.0,605.3 756.0,605.0 753.8,602.0 754.0,598.7ZM690.0,607.6 694.0,608.0 698.8,612.0 699.6,616.0 699.3,628.0 701.2,632.0 704.0,634.3 708.0,634.7 710.0,633.9 718.0,626.1 722.0,624.7 728.0,625.9 731.7,630.0 732.2,636.0 730.8,650.0 731.0,690.0 683.0,690.0 682.9,642.0 681.6,616.0 682.9,612.0 684.6,610.0ZM846.0,643.6 852.0,643.7 856.8,646.0 864.0,653.5 873.0,660.0 876.6,664.0 877.4,668.0 873.2,682.0 873.3,690.0 799.9,690.0 807.3,682.0 814.0,672.2 822.3,666.0 830.0,656.1 841.1,646.0Z"/>
<path fill-rule="evenodd" fill="#bd0026" d="M50.0,52.0 69.9,52.0 71.1,82.0 69.5,88.0 66.0,90.9 50.0,91.6ZM119.0,52.0 282.8,52.0 282.7,64.0 281.8,68.0 278.4,72.0 270.4,78.0 267.5,84.0 266.9,110.0 268.0,117.1 271.9,122.0 276.0,123.7 306.0,124.9 311.1,126.0 313.9,128.0 314.7,132.0 313.0,144.0 314.6,152.0 320.0,157.1 330.0,160.5 334.0,163.0 335.9,166.0 337.0,172.0 336.3,180.0 334.0,185.2 330.0,189.3 322.0,194.3 318.6,198.0 315.9,206.0 315.9,212.0 318.7,216.0 334.0,229.9 338.8,232.0 354.0,235.9 362.8,244.0 364.6,248.0 365.1,252.0 362.0,266.0 363.1,274.0 366.3,280.0 376.0,288.6 379.7,294.0 380.2,300.0 378.8,314.0 379.3,334.0 378.5,340.0 376.0,344.2 366.2,352.0 360.0,362.3 356.0,364.0 352.0,362.1 344.0,352.6 334.0,344.0 328.0,335.0 324.0,333.0 320.0,333.6 318.0,335.0 310.0,346.0 301.1,354.0 296.0,357.0 290.0,357.9 286.0,356.9 278.0,350.0 274.0,349.1 269.3,352.0 265.1,360.0 262.0,363.1 258.0,363.5 252.6,360.0 250.6,356.0 250.1,352.0 251.6,334.0 251.2,326.0 247.6,320.0 237.2,312.0 236.3,310.0 237.1,306.0 240.0,302.4 244.0,299.9 258.0,299.7 264.0,296.6 270.0,288.0 279.8,280.0 286.0,271.9 297.2,262.0 300.1,256.0 300.9,248.0 298.0,243.4 294.0,241.4 290.0,240.9 284.0,243.0 277.3,250.0 272.0,252.6 264.0,252.7 256.2,250.0 253.9,248.0 251.7,244.0 250.8,230.0 249.6,226.0 246.0,222.1 240.0,217.9 233.1,208.0 230.0,205.7 226.0,205.3 222.0,207.2 215.3,216.0 205.8,224.0 198.0,234.6 194.0,236.5 186.0,237.0 176.0,235.1 172.2,232.0 171.4,230.0 171.4,228.0 173.6,224.0 185.6,214.0 187.8,208.0 187.6,200.0 185.8,194.0 182.5,190.0 178.3,188.0 170.0,187.6 154.0,189.6 134.0,195.9 128.0,196.7 50.0,196.6 50.0,173.1 64.0,173.0 67.7,172.0 70.3,170.0 75.7,160.0 78.0,157.9 84.0,156.0 98.0,155.5 102.0,153.7 105.4,150.0 107.2,142.0 106.3,104.0 108.2,100.0 115.1,92.0 118.1,86.0 119.3,76.0ZM183.8,126.0 175.4,130.0 174.4,132.0 175.2,134.0 186.0,141.5 192.0,150.4 194.0,152.4 196.0,152.6 198.4,150.0 199.8,144.0 198.0,130.0 196.0,126.5 194.0,124.9 190.0,124.5ZM478.0,403.6 484.0,403.4 486.0,404.4 488.9,408.0 491.7,420.0 490.8,424.0 488.0,426.8 486.0,427.1 482.0,425.5 475.1,420.0 471.9,416.0 471.0,412.0 472.0,408.0 473.6,406.0Z"/>
<path fill-rule="evenodd" fill="#800026" d="M127.0,52.0 234.4,52.0 234.6,114.0 237.8,120.0 248.0,126.5 250.1,132.0 248.0,136.3 237.2,144.0 235.5,148.0 236.6,152.0 240.0,155.3 244.0,156.7 274.0,155.9 280.0,153.1 286.0,144.0 290.0,140.2 296.0,138.1 302.3,138.0 305.6,140.0 306.8,142.0 310.0,154.0 312.2,158.0 316.0,160.6 326.2,164.0 330.4,168.0 332.2,176.0 330.3,182.0 326.0,186.0 314.1,192.0 308.0,200.8 304.0,203.6 300.0,204.2 286.0,203.0 266.0,204.4 260.0,203.9 256.0,202.4 253.4,200.0 248.0,191.5 238.1,184.0 230.0,173.9 224.0,171.8 212.0,171.7 208.0,170.2 205.7,168.0 204.4,164.0 207.3,148.0 206.9,132.0 204.0,116.8 200.0,110.5 198.0,109.4 194.0,109.2 180.0,119.0 168.0,122.3 162.0,122.6 158.0,120.2 156.0,116.8 155.3,104.0 153.6,100.0 148.0,96.3 134.0,92.8 129.7,90.0 127.5,86.0 126.5,80.0ZM146.0,141.2 152.0,140.0 160.0,140.6 174.0,143.2 180.0,145.9 183.1,150.0 185.3,158.0 185.7,164.0 184.1,168.0 180.0,171.2 174.0,172.4 152.0,171.9 144.0,169.5 139.4,164.0 138.3,154.0 140.4,146.0ZM292.0,219.6 300.0,218.8 306.0,220.3 311.1,224.0 318.0,232.4 330.0,238.3 336.0,239.7 350.0,240.5 354.0,241.9 357.2,246.0 356.8,250.0 344.0,264.9 340.0,266.5 336.0,265.7 326.0,254.8 316.9,248.0 312.3,240.0 310.3,238.0 304.0,235.4 289.9,232.0 286.2,230.0 284.9,228.0 285.6,224.0 288.0,221.5Z"/>
<path fill-rule="evenodd" fill="#980043" d="M138.0,52.0 219.6,52.0 220.5,76.0 219.3,84.0 216.8,88.0 214.0,90.1 210.0,91.5 202.0,92.2 166.0,91.4 144.0,86.5 138.0,82.7 135.6,78.0 135.4,74.0 137.8,64.0ZM318.0,169.8 322.0,169.6 324.0,171.0 325.7,174.0 325.6,178.0 324.4,180.0 322.0,181.4 318.0,181.4 315.5,180.0 314.5,178.0 315.5,172.0Z"/>
<path fill-rule="evenodd" fill="#8b1c62" d=""/>
</g>
<path d="M158,218.4 204.6,218.4M332,108 333,116 330,124 338,132 342,142 341,154 343,160 339,170 338,180 342,194 345,206 327,210 330,220 337,230 340,242 342,246 346,250 355,251 360,262 366,276 378,280 386,288 394,298 404,299M394,299 388,304 390,316 398,324 406,334 410,340 420,341 428,352 432,362 438,376 446,384 443,394 438,400M404,299 409,294 410,284 416,272 424,258 436,262 448,266 460,270 474,270 482,259 500,260M515,184 508,196 500,210 494,222 497,234 499,250 500,260M500,260 512,264 517,276 512,294 510,306 518,318 528,326 535,318M535,318 550,315 564,320 572,326 584,328 594,334 598,336M536,319 542,336 520,338 508,342 498,354 498,364 490,370 488,380 488,394 486,380M626,230 617,226 608,238 597,245 599,250 605,250 605,258 600,264 584,273 596,288 602,300 614,308 614,312 602,310 596,316 598,330 598,336M627,233 630,236 633,254 642,266 646,276 656,284 670,284 670,302 674,303 654,318 648,324 633,336 639,352 640,358 626,360 620,372 618,376 610,378 608,360 605,346 599,337M598,336 590,342 584,346 584,354 570,366 550,372 549,378 554,388 560,396 564,400 574,394 580,398 578,412 572,424M620,373 620,388 623,393 638,394 642,398 648,404 662,406 670,406 678,404 690,408 695,411M671,408 672,420 668,428 670,440 668,432 674,442 682,448 678,458 689,463 694,458 698,468 696,476 704,480 716,480 712,492 708,500 720,508 718,516 710,522 712,530 724,536 732,532 740,540 750,548 758,548 760,560 772,566 780,562 782,570 792,578 822,580M530,422 534,410 548,404 558,414 562,420 550,428 536,430 530,422M572,424 590,430 602,434 610,430 620,436 632,434 640,436 650,430 654,442 666,446 672,440M572,424 570,438 562,450 556,462 560,474M560,474 548,474 536,480 524,482 526,486 532,488 534,500 540,504 532,510 522,516 518,520 508,520M472,512 490,502 506,504 509,516 508,520 502,530M560,474 570,478 578,476 580,482 590,484 600,486 610,484 612,476M610,430 623,442 622,452 606,457 605,466 612,476 620,486M632,435 634,446 644,448 640,460 630,468 628,478M620,486 616,500 612,512 604,524 598,526 600,536 606,532 614,540 628,532 634,526 640,524M628,478 642,484 644,492 656,486 668,492 666,500 652,500 646,508 646,516 640,524M640,524 646,534 656,540 666,534 666,520 660,518 652,516 646,516M652,500 657,510 652,516M668,498 680,496 692,500 700,508 688,510 684,514 674,508 668,498M674,460 671,470 684,472 680,482 684,488 680,496M666,534 674,546 684,552 696,550 698,544 708,548 720,544 730,540M600,536 592,534 580,534 564,533 562,540 552,554M656,540 664,550 674,556 678,568 680,575 687,587 682,597 672,607M446,386 458,388 460,395 466,400 480,406 483,418 494,426 502,436 500,442 486,446 482,458 484,464 466,452 454,456 448,460M488,394 498,394 494,406 504,400 504,414 514,406 522,410 518,418 508,422 504,436 508,440 512,448 522,448 528,442 536,438 536,428 530,422M550,380 554,390 564,400M822,580 817,595 815,602 819,612M815,545 817,555 825,565 832,575 822,580M832,575 841,555 846,552 850,565 860,574 872,565 885,556 892,559 897,570 905,576M872,531 880,535 880,545 885,547 892,552 895,557M899,546 917,554 919,559M937,454 939,465 945,470 950,470 956,478 964,487 972,497 975,500M1031,434 1031,452 1026,460 1017,470 1004,476 993,482 985,492 975,500 978,505 978,558" fill="none" stroke="#000" stroke-width="1.25" stroke-linejoin="round" stroke-linecap="round"/>
<path d="M342,240 L338,264 L330,270 L322,274" fill="none" stroke="#aaa" stroke-width="1" stroke-dasharray="1.5,1.5"/>

<path d="M883,530 L893,527 L903,524 L911,522 L910,527 L907,532 L898,535 L890,539 L885,536Z M786,611 L790,606 L796,605 L800,608 L797,611Z M806,613 L812,611 L818,614 L820,617 L812,616Z M156,222 L162,220 L167,224 L166,229 L160,228 L157,226Z M191,253 L193,251 L195,256 L196,262 L193,261Z" fill="#fff"/>
<path d="M1034,528 C1038,526 1041,530 1039,534 C1037,539 1032,539 1032,534 Z" fill="#fff" stroke="#222" stroke-width="0.8"/>
<path d="M62,67 142,60 139,68 261.4,106.6 354.5,107 354.5,92 410,92 417.5,99 425,106 435,114 445,122.5 455,126 462.5,132.5 467.5,142.5 470,151 477.5,162.5 485,170 495,176 505,180 515,185 522.5,182.5 530,172.5 535,162.5 545,156 560,158 575,159 585,170 597.5,180 605,192.5 612.5,205 622.5,217.5 632.5,230 640,242.5 645,257.5 652.5,270 665,275 680,281 695,285 707.5,287 716,286 714,300 709,312.5 704,325 700,340 697.5,350 696,360 695,375 694,390 694,402.5 696,412.5 705,425 710,435 707.5,442.5 711,452.5 717.5,465 725,475 732.5,485 740,497.5 747.5,510 755,517.5 762.5,525 780,527.5 790,532.5 797.5,541 804,546 815,544 830,540 845,536 860,535 865,530 882.5,529 895,527.5 907.5,521 917.5,512.5 925,505 929,495 935,485 936,472.5 937.5,457.5 942.5,451 955,445 970,441 985,439 1000,434 1015,431 1030,434 1042.5,432.5 1050,432.5 1055,440 1055,450 1050,460 1045,470 1037.5,480 1032.5,490 1031,500 1030,510 1027.5,520 1022.5,530 1021,540 1016,545 1015,526 1007.5,530 1002.5,536 997.5,536 990,547.5 985,551 979,550 979,559 919,559 919,576 905,576 912.5,586 925,595 932.5,604 937.5,606 936,616 895,616 887.5,627.5 879,645 881,652.5 879,667.5 872.5,662.5 860,647.5 850,640 840,630 830,622.5 820,617.5 810,612.5 797.5,610 785,611 775,617.5 762.5,622.5 750,627.5 737.5,630 727.5,627.5 715,622.5 700,620 685,614 672.5,609 660,602.5 645,597.5 630,592.5 615,585 600,576 590,575 575,567.5 565,560 552.5,554 540,550 525,545 507.5,540 500,530 487.5,520 475,515 462.5,507.5 450,497.5 442.5,485 437.5,472.5 450,462.5 444,459 450,450 452.5,437.5 447.5,427.5 440,415 435,400 425,387.5 410,375 400,362.5 385,350 375,337.5 360,325 350,315 337.5,305 317.5,297.5 315,287.5 320,275 312.5,262.5 300,255 290,247.5 277.5,240 277.5,226 268,220 255,212.5 242.5,200 230,190 225,180 217.5,170 210,160 205,147.5 202.5,135 197.5,127.5 196,117.5 192.5,110 180,107.5 167.5,97.5 162.5,100 150,95 140,94 137.5,92.5 136,107.5 140,122.5 144,135 146,147.5 155,157.5 167.5,167.5 177.5,180 190,192.5 200,205 205,217.5 212.5,230 222.5,240 230,250 240,260 247.5,270 251,280 255,292.5 260,302.5 267.5,312.5 272.5,325 272.5,335 277.5,342.5 285,347.5 290,344 297.5,350 302.5,355 310,362.5 315,370 312.5,377.5 305,385 295,389 290,380 285,370 275,362.5 265,355 255,345 240,341 230,335 222.5,325 226,312.5 227.5,300 225,290 220,282.5 210,275 200,267.5 190,259 180,261 170,256 160,247.5 150,245 140,232.5 130,224 150,222 157.5,217.5 162.5,210 157.5,200 150,190 142.5,182.5 132.5,175 122.5,170 110,157.5 106,147.5 100,135 91,120 87.5,112.5 80,96 75,90 69,77.5Z" fill="none" stroke="#333" stroke-width="0.9" stroke-linejoin="round"/>
<path d="M179,166 183,167 188,174 192,182 189,182 184,176 180,170Z" fill="#bd0026" stroke="#333" stroke-width="0.6"/><path d="M214,181 219,177 224,180 225,188 221,192 216,190Z" fill="#bd0026" stroke="#333" stroke-width="0.6"/><path d="M123,207 125,206 126,212 125,217 122,216 121,212Z" fill="#f7fcb9" stroke="#333" stroke-width="0.6"/><path d="M1047,475 1050,469 1056,466 1057,468 1053,473 1049,476Z" fill="#fd8d3c" stroke="#333" stroke-width="0.6"/><path d="M865,530 875,527 882,526 882,528 874,530Z" fill="#fd8d3c" stroke="#333" stroke-width="0.6"/>
<g stroke="#00007f" stroke-width="2" fill="none" stroke-linejoin="miter">
<path d="M110.5,69.1 L129.7,69.1 L120.1,52.5 Z"/>
<path d="M131.5,55.4 L150.7,55.4 L141.1,72 Z"/>
<path d="M133.4,73.2 L123.5,83.2 L133.4,93.3 L143.4,83.2 Z"/>
</g>
</g>
<g stroke="#555" stroke-width="0.7" stroke-dasharray="1,2" fill="none">
<line x1="132.5" y1="59" x2="132.5" y2="678.5" />
<line x1="296.1" y1="59" x2="296.1" y2="678.5" />
<line x1="459.7" y1="59" x2="459.7" y2="678.5" />
<line x1="623.3" y1="59" x2="623.3" y2="678.5" />
<line x1="786.9" y1="59" x2="786.9" y2="678.5" />
<line x1="950.5" y1="59" x2="950.5" y2="678.5" />
<line x1="59.2" y1="152" x2="1069.7" y2="152" />
<line x1="59.2" y1="318.8" x2="1069.7" y2="318.8" />
<line x1="59.2" y1="485.6" x2="1069.7" y2="485.6" />
<line x1="59.2" y1="652.4" x2="1069.7" y2="652.4" />
</g>
<g>
<defs><linearGradient id="lg" x1="0" y1="0" x2="0" y2="1"><stop offset="0" stop-color="#3489cd"/><stop offset="0.55" stop-color="#2b74ba"/><stop offset="1" stop-color="#173d7e"/></linearGradient></defs>
<path fill="url(#lg)" d="M830.5,76 C820,87 806,99 804,112 C802.5,124 811,135 825,135 C835,135 842,130 845,122.5 C839,125.5 834,124 829,124.5 C824,125 819,124 816.5,120 C814.5,116 818,110 824,104 C829,99 830.5,96 830.5,93 Z"/>
<path fill="none" stroke="#e3e9f0" stroke-width="1.25" d="M830.2,80.5 C822,89 809.5,101 808.2,112 C807.2,122 813,130.5 825,131 C833,131 839,128.5 842.5,124.5"/>
<path fill="none" stroke="#e3e9f0" stroke-width="1.25" d="M830.3,87.5 C824,95 813.5,104.5 812.2,113 C811.2,121 816,126.5 825,127.5"/>
<path fill="none" stroke="#e6e6e6" stroke-width="1.1" d="M817,124.2 q3.5,-2.6 7,0 t7,0 t7,0 t7,-0.5"/>
<path fill="none" stroke="#e6e6e6" stroke-width="0.9" d="M819,128 q3.5,-2.4 7,0 t7,0 t7,-0.3"/>
<path fill="#c9a063" d="M816,121.5 C815,117 818,112 822,107 C825,103 828,99.5 833,99 C837,98.7 841,100.5 842,103 L840.5,105.5 L838.5,104.5 C837.5,107 836.5,109 837.5,111 C840,111 844,112 847,115.5 C843.5,114.5 841,114.5 839,115.5 L836.5,114.5 L835,116.5 L832,115.5 L830,118 L827,117.5 L824.5,120.5 L821.5,119.5 L819,122 Z"/>
<text x="855" y="112" font-family="Liberation Serif, serif" font-weight="bold" font-size="33.5" textLength="176" lengthAdjust="spacingAndGlyphs" style="fill:#787878">CONAGUA</text>
<text x="856" y="127" font-size="7.6" font-weight="bold" textLength="139" lengthAdjust="spacing" style="fill:#7c7c7c">COMISIÓN NACIONAL DEL AGUA</text>
</g>

<line x1="58.4" y1="59" x2="1070.3" y2="59" stroke="#808080" stroke-width="1.6"/>
<line x1="1069.7" y1="59" x2="1069.7" y2="679" stroke="#555" stroke-width="1.1"/>
<line x1="59.2" y1="58.2" x2="59.2" y2="679" stroke="#808080" stroke-width="1.2"/>
<line x1="59.2" y1="152" x2="59.2" y2="652.4" stroke="#000" stroke-width="1.2"/>
<line x1="58.6" y1="678.5" x2="1070.3" y2="678.5" stroke="#111" stroke-width="1.1"/>
<line x1="132.5" y1="678.5" x2="132.5" y2="685.5" stroke="#000" stroke-width="1.1"/>
<text x="132.5" y="704.5" font-size="22.3" text-anchor="middle">-115</text>
<line x1="296.1" y1="678.5" x2="296.1" y2="685.5" stroke="#000" stroke-width="1.1"/>
<text x="296.1" y="704.5" font-size="22.3" text-anchor="middle">-110</text>
<line x1="459.7" y1="678.5" x2="459.7" y2="685.5" stroke="#000" stroke-width="1.1"/>
<text x="459.7" y="704.5" font-size="22.3" text-anchor="middle">-105</text>
<line x1="623.3" y1="678.5" x2="623.3" y2="685.5" stroke="#000" stroke-width="1.1"/>
<text x="623.3" y="704.5" font-size="22.3" text-anchor="middle">-100</text>
<line x1="786.9" y1="678.5" x2="786.9" y2="685.5" stroke="#000" stroke-width="1.1"/>
<text x="786.9" y="704.5" font-size="22.3" text-anchor="middle">-95</text>
<line x1="950.5" y1="678.5" x2="950.5" y2="685.5" stroke="#000" stroke-width="1.1"/>
<text x="950.5" y="704.5" font-size="22.3" text-anchor="middle">-90</text>
<line x1="51.5" y1="152" x2="59.2" y2="152" stroke="#000" stroke-width="1.1"/>
<text x="44.6" y="159.9" font-size="22.3" text-anchor="end">30</text>
<line x1="51.5" y1="318.8" x2="59.2" y2="318.8" stroke="#000" stroke-width="1.1"/>
<text x="44.6" y="326.7" font-size="22.3" text-anchor="end">25</text>
<line x1="51.5" y1="485.6" x2="59.2" y2="485.6" stroke="#000" stroke-width="1.1"/>
<text x="44.6" y="493.5" font-size="22.3" text-anchor="end">20</text>
<line x1="51.5" y1="652.4" x2="59.2" y2="652.4" stroke="#000" stroke-width="1.1"/>
<text x="44.6" y="660.3" font-size="22.3" text-anchor="end">15</text>
<text x="565" y="25.8" font-size="21.7" font-weight="bold" text-anchor="middle">Temperatura máxima diaria (<tspan font-size="21.5" dx="1.5" dy="0">°</tspan><tspan dx="1.5" dy="0">C)</tspan></text>
<text x="565" y="50" font-size="21.5" font-weight="bold" text-anchor="middle">del 01 de octubre de 2020</text>
<text x="565" y="732.3" font-size="21.7" font-weight="bold" text-anchor="middle">Longitud</text>
<text transform="translate(13,368) rotate(-90)" font-size="21.3" font-weight="bold" text-anchor="middle">Latitud</text>
<text x="60" y="748" font-size="12.36" font-style="italic">Fecha de elaboración 2020-10-02 14:01:26 Subgerencia de Climatología y Servicios Climáticos</text>
<text x="1071" y="748" font-size="19.6" font-style="italic" text-anchor="end" xml:space="preserve">Estaciones:  1252</text>
<g font-size="14.4">
<text x="82" y="585">Temperaturas máximas en grados Celsius (<tspan font-size="13" dx="1.5" dy="-0.5">°</tspan><tspan dx="1.5" dy="0.5">C)</tspan></text>
<text x="93" y="609">1.-Mexicali Observatorio SMN, B.C.: 44.4</text>
<text x="93" y="626">2.-Encinas Johnson REMAS, Son.: 44.1</text>
<text x="93" y="643.5">3.-Observatorio de Algodones SMN, B.C.: 43.6</text>
</g>
<g stroke="#222" stroke-width="0.9" fill="none">
<path d="M74.8,606.3 L84.7,606.3 L79.75,598.2 Z"/>
<path d="M79.75,615.6 L74.7,620.6 L79.75,625.6 L84.8,620.6 Z"/>
<path d="M74.8,635.3 L84.7,635.3 L79.75,643.2 Z"/>
</g>
<rect x="73.25" y="756.5" width="35.37" height="18" fill="#9a32cd"/>
<rect x="108.32" y="756.5" width="35.37" height="18" fill="#68228b"/>
<rect x="143.39" y="756.5" width="35.37" height="18" fill="#3f007d"/>
<rect x="178.46" y="756.5" width="35.37" height="18" fill="#54278f"/>
<rect x="213.54" y="756.5" width="35.37" height="18" fill="#6a51a3"/>
<rect x="248.61" y="756.5" width="35.37" height="18" fill="#807dba"/>
<rect x="283.68" y="756.5" width="35.37" height="18" fill="#9e9ac8"/>
<rect x="318.75" y="756.5" width="35.37" height="18" fill="#bcbddc"/>
<rect x="353.82" y="756.5" width="35.37" height="18" fill="#7fcdbb"/>
<rect x="388.89" y="756.5" width="35.37" height="18" fill="#41b6c4"/>
<rect x="423.96" y="756.5" width="35.37" height="18" fill="#1d91c0"/>
<rect x="459.04" y="756.5" width="35.37" height="18" fill="#225ea8"/>
<rect x="494.11" y="756.5" width="35.37" height="18" fill="#238443"/>
<rect x="529.18" y="756.5" width="35.37" height="18" fill="#41ab5d"/>
<rect x="564.25" y="756.5" width="35.37" height="18" fill="#78c679"/>
<rect x="599.32" y="756.5" width="35.37" height="18" fill="#addd8e"/>
<rect x="634.39" y="756.5" width="35.37" height="18" fill="#d9f0a3"/>
<rect x="669.46" y="756.5" width="35.37" height="18" fill="#f7fcb9"/>
<rect x="704.54" y="756.5" width="35.37" height="18" fill="#fed976"/>
<rect x="739.61" y="756.5" width="35.37" height="18" fill="#feb24c"/>
<rect x="774.68" y="756.5" width="35.37" height="18" fill="#fd8d3c"/>
<rect x="809.75" y="756.5" width="35.37" height="18" fill="#fc4e2a"/>
<rect x="844.82" y="756.5" width="35.37" height="18" fill="#e31a1c"/>
<rect x="879.89" y="756.5" width="35.37" height="18" fill="#bd0026"/>
<rect x="914.96" y="756.5" width="35.37" height="18" fill="#800026"/>
<rect x="950.04" y="756.5" width="35.37" height="18" fill="#980043"/>
<rect x="985.11" y="756.5" width="35.37" height="18" fill="#8b1c62"/>
<rect x="1020.18" y="756.5" width="35.37" height="18" fill="#cb2a92"/>
<line x1="73.25" y1="756.5" x2="73.25" y2="781" stroke="#111" stroke-width="0.8"/>
<line x1="108.32" y1="756.5" x2="108.32" y2="781" stroke="#111" stroke-width="0.8"/>
<line x1="143.39" y1="756.5" x2="143.39" y2="781" stroke="#111" stroke-width="0.8"/>
<line x1="178.46" y1="756.5" x2="178.46" y2="781" stroke="#111" stroke-width="0.8"/>
<line x1="213.54" y1="756.5" x2="213.54" y2="781" stroke="#111" stroke-width="0.8"/>
<line x1="248.61" y1="756.5" x2="248.61" y2="781" stroke="#111" stroke-width="0.8"/>
<line x1="283.68" y1="756.5" x2="283.68" y2="781" stroke="#111" stroke-width="0.8"/>
<line x1="318.75" y1="756.5" x2="318.75" y2="781" stroke="#111" stroke-width="0.8"/>
<line x1="353.82" y1="756.5" x2="353.82" y2="781" stroke="#111" stroke-width="0.8"/>
<line x1="388.89" y1="756.5" x2="388.89" y2="781" stroke="#111" stroke-width="0.8"/>
<line x1="423.96" y1="756.5" x2="423.96" y2="781" stroke="#111" stroke-width="0.8"/>
<line x1="459.04" y1="756.5" x2="459.04" y2="781" stroke="#111" stroke-width="0.8"/>
<line x1="494.11" y1="756.5" x2="494.11" y2="781" stroke="#111" stroke-width="0.8"/>
<line x1="529.18" y1="756.5" x2="529.18" y2="781" stroke="#111" stroke-width="0.8"/>
<line x1="564.25" y1="756.5" x2="564.25" y2="781" stroke="#111" stroke-width="0.8"/>
<line x1="599.32" y1="756.5" x2="599.32" y2="781" stroke="#111" stroke-width="0.8"/>
<line x1="634.39" y1="756.5" x2="634.39" y2="781" stroke="#111" stroke-width="0.8"/>
<line x1="669.46" y1="756.5" x2="669.46" y2="781" stroke="#111" stroke-width="0.8"/>
<line x1="704.54" y1="756.5" x2="704.54" y2="781" stroke="#111" stroke-width="0.8"/>
<line x1="739.61" y1="756.5" x2="739.61" y2="781" stroke="#111" stroke-width="0.8"/>
<line x1="774.68" y1="756.5" x2="774.68" y2="781" stroke="#111" stroke-width="0.8"/>
<line x1="809.75" y1="756.5" x2="809.75" y2="781" stroke="#111" stroke-width="0.8"/>
<line x1="844.82" y1="756.5" x2="844.82" y2="781" stroke="#111" stroke-width="0.8"/>
<line x1="879.89" y1="756.5" x2="879.89" y2="781" stroke="#111" stroke-width="0.8"/>
<line x1="914.96" y1="756.5" x2="914.96" y2="781" stroke="#111" stroke-width="0.8"/>
<line x1="950.04" y1="756.5" x2="950.04" y2="781" stroke="#111" stroke-width="0.8"/>
<line x1="985.11" y1="756.5" x2="985.11" y2="781" stroke="#111" stroke-width="0.8"/>
<line x1="1020.18" y1="756.5" x2="1020.18" y2="781" stroke="#111" stroke-width="0.8"/>
<line x1="1055.25" y1="756.5" x2="1055.25" y2="781" stroke="#111" stroke-width="0.8"/>
<line x1="73.25" y1="774.5" x2="1055.25" y2="774.5" stroke="#222" stroke-width="0.6"/>
<text x="73.25" y="800.8" font-size="21.8" text-anchor="middle">-20</text>
<text x="143.39" y="800.8" font-size="21.8" text-anchor="middle">-15</text>
<text x="213.54" y="800.8" font-size="21.8" text-anchor="middle">-10</text>
<text x="283.68" y="800.8" font-size="21.8" text-anchor="middle">-5</text>
<text x="353.82" y="800.8" font-size="21.8" text-anchor="middle">0</text>
<text x="423.96" y="800.8" font-size="21.8" text-anchor="middle">5</text>
<text x="494.11" y="800.8" font-size="21.8" text-anchor="middle">10</text>
<text x="564.25" y="800.8" font-size="21.8" text-anchor="middle">15</text>
<text x="634.39" y="800.8" font-size="21.8" text-anchor="middle">20</text>
<text x="704.54" y="800.8" font-size="21.8" text-anchor="middle">25</text>
<text x="774.68" y="800.8" font-size="21.8" text-anchor="middle">30</text>
<text x="844.82" y="800.8" font-size="21.8" text-anchor="middle">35</text>
<text x="914.96" y="800.8" font-size="21.8" text-anchor="middle">40</text>
<text x="985.11" y="800.8" font-size="21.8" text-anchor="middle">45</text>
<text x="1055.25" y="800.8" font-size="21.8" text-anchor="middle">50</text>
</svg>
</body></html>
